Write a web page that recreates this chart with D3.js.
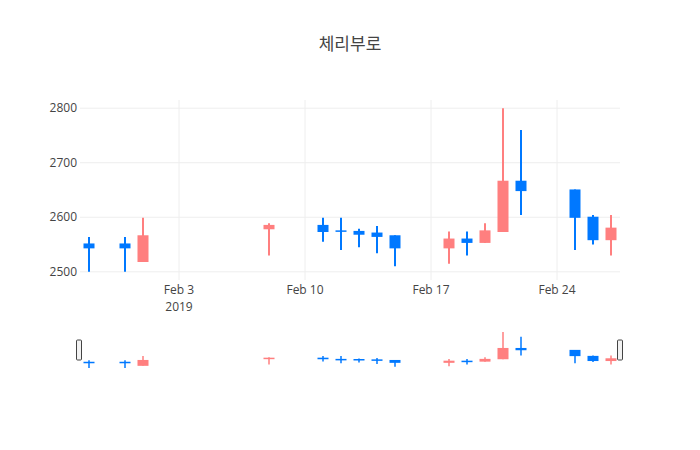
<!DOCTYPE html>
<html><head><meta charset="utf-8">
<script src="https://cdn.jsdelivr.net/npm/d3@7"></script>
<style>body{margin:0;background:#fff}text{font-family:"Open Sans","Noto Sans CJK KR",sans-serif}</style>
</head><body>
<script>
var w = 700, h = 450;

var dates = ["2019-01-29","2019-01-31","2019-02-01","2019-02-08","2019-02-11","2019-02-12","2019-02-13","2019-02-14","2019-02-15",
  "2019-02-18","2019-02-19","2019-02-20","2019-02-21","2019-02-22","2019-02-25","2019-02-26","2019-02-27"];
var open  = [2552,2552,2518,2578,2586,2576,2575,2572,2567,2543,2561,2553,2573,2667,2651,2601,2558];
var high  = [2564,2564,2599,2589,2599,2599,2579,2584,2567,2574,2574,2589,2800,2760,2651,2604,2604];
var low   = [2500,2500,2518,2530,2555,2540,2545,2534,2510,2515,2530,2553,2573,2604,2540,2550,2530];
var close = [2543,2543,2567,2586,2573,2574,2568,2564,2543,2561,2553,2576,2667,2648,2599,2558,2581];
var yTicks = [2500,2600,2700,2800];
var xTicks = ["2019-02-03","2019-02-10","2019-02-17","2019-02-24"];

var parse = d3.timeParse("%Y-%m-%d");
var data = dates.map(function(d, i){
  return {date: parse(d), o: open[i], h: high[i], l: low[i], c: close[i]};
});

var x0 = d3.timeHour.offset(parse("2019-01-29"), -12), x1 = d3.timeHour.offset(parse("2019-02-27"), 12);
var x = d3.scaleTime().domain([x0, x1]).range([80, 620]);
var y = d3.scaleLinear().domain([2485, 2815]).range([280, 100]);
var ys = d3.scaleLinear().domain([2500, 2800]).range([368, 332]);

var up = "#ff7f7f", down = "#0078ff";

var svg = d3.select("body").append("svg").attr("width", w).attr("height", h);

svg.append("text").attr("x", 350).attr("y", 50).attr("text-anchor", "middle")
  .attr("font-size", 17).attr("fill", "#444").text("체리부로");

// grid
svg.selectAll(".yg").data(yTicks).enter().append("line")
  .attr("x1", 80).attr("x2", 620).attr("y1", d => y(d)).attr("y2", d => y(d))
  .attr("stroke", "#eee");
svg.selectAll(".xg").data(xTicks).enter().append("line")
  .attr("x1", d => x(parse(d))).attr("x2", d => x(parse(d))).attr("y1", 100).attr("y2", 280)
  .attr("stroke", "#eee");

svg.selectAll(".yt").data(yTicks).enter().append("text")
  .attr("x", 77).attr("y", d => y(d) + 4).attr("text-anchor", "end")
  .attr("font-size", 12).attr("fill", "#444").text(d => d);
svg.selectAll(".xt").data(xTicks).enter().append("text")
  .attr("x", d => x(parse(d))).attr("y", 294).attr("text-anchor", "middle")
  .attr("font-size", 12).attr("fill", "#444").text(d => d3.timeFormat("%b %-d")(parse(d)));
svg.append("text").attr("x", x(parse(xTicks[0]))).attr("y", 311).attr("text-anchor", "middle")
  .attr("font-size", 12).attr("fill", "#444").text("2019");

function candles(g, ys, bw, sw) {
  var c = g.selectAll("g").data(data).enter().append("g");
  c.append("line").attr("x1", d => x(d.date)).attr("x2", d => x(d.date))
    .attr("y1", d => ys(d.h)).attr("y2", d => ys(d.l))
    .attr("stroke", d => d.c >= d.o ? up : down).attr("stroke-width", sw);
  c.append("rect").attr("x", d => x(d.date) - bw / 2).attr("width", bw)
    .attr("y", d => ys(Math.max(d.o, d.c)))
    .attr("height", d => Math.max(1.5, ys(Math.min(d.o, d.c)) - ys(Math.max(d.o, d.c))))
    .attr("fill", d => d.c >= d.o ? up : down);
}
candles(svg.append("g"), y, 11, 2);
candles(svg.append("g"), ys, 11, 1.5);

// range slider handles
[79, 620].forEach(function(hx){
  svg.append("rect").attr("x", hx - 2.5).attr("y", 340).attr("width", 5).attr("height", 20)
    .attr("rx", 1).attr("fill", "#f2f2f2").attr("stroke", "#444").attr("stroke-width", 1);
});
</script>
</body></html>
